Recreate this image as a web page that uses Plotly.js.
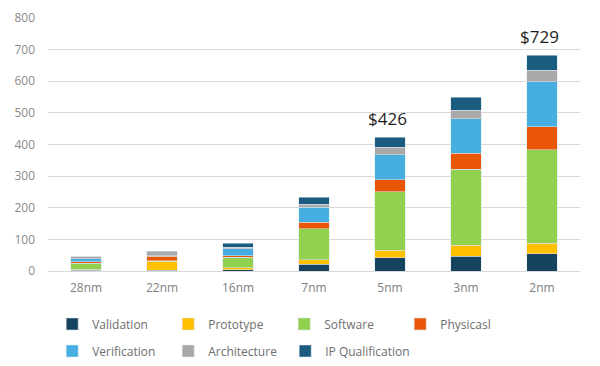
<!DOCTYPE html>
<html>
<head>
<meta charset="utf-8">
<script src="https://cdn.plot.ly/plotly-3.0.1.min.js"></script>
<style>html,body{margin:0;padding:0;background:#fff;}#chart{width:600px;height:366px;}</style>
</head>
<body>
<div id="chart"></div>
<script>
const categories = ['28nm','22nm','16nm','7nm','5nm','3nm','2nm'];
const validation   = [3, 3, 4, 21, 42, 47, 55];
const prototype    = [2, 28, 7, 14, 23, 34, 32];
const software     = [19, 2, 33, 98, 185, 240, 297];
const physical     = [5, 14, 5, 21, 38, 51, 72];
const verification = [10, 2, 21, 47, 79, 109, 142];
const architecture = [7, 12, 5, 10, 24, 28, 37];
const ipQual       = [1, 2, 13, 23, 32, 40, 47];
const totalLabels  = ['', '', '', '', '$426', '', '$729'];
const yTicks = [0,100,200,300,400,500,600,700,800];

const series = [
  {name:'Validation', y:validation, color:'#16435d', legend:'legend'},
  {name:'Prototype', y:prototype, color:'#ffc000', legend:'legend'},
  {name:'Software', y:software, color:'#92d050', legend:'legend'},
  {name:'Physicasl', y:physical, color:'#e85606', legend:'legend'},
  {name:'Verification', y:verification, color:'#47aee2', legend:'legend2'},
  {name:'Architecture', y:architecture, color:'#a9a9a9', legend:'legend2'},
  {name:'IP Qualification', y:ipQual, color:'#1a5c80', legend:'legend3'}
];

const traces = series.map(s => ({
  type:'bar', x:categories, y:s.y, name:s.name, legend:s.legend,
  marker:{color:s.color, line:{width:0.6, color:'rgba(220,228,235,0.9)'}},
  hoverinfo:'x+y+name'
}));

const totals = categories.map((c,i) => series.reduce((a,s)=>a+s.y[i],0));
const annotations = categories.map((c,i) => totalLabels[i] ? ({
  x:c, y:totals[i], xref:'x', yref:'y', text:totalLabels[i], showarrow:false,
  yanchor:'bottom', yshift:5, xshift:-3,
  font:{family:'Open Sans, sans-serif', size:17, color:'#1e1e1e'}
}) : null).filter(a=>a);

const legendFont = {family:'Open Sans, sans-serif', size:12, color:'#6e6e6e'};
const legendBase = {orientation:'h', xref:'container', yref:'container',
  xanchor:'left', yanchor:'middle', traceorder:'normal', font:legendFont,
  bgcolor:'rgba(0,0,0,0)'};
const layout = {
  width:600, height:366,
  margin:{l:48, r:20, t:18, b:95},
  paper_bgcolor:'#fff', plot_bgcolor:'#fff',
  barmode:'stack', bargap:0.6,
  font:{family:'Open Sans, sans-serif'},
  xaxis:{type:'category', showgrid:false, zeroline:false, showline:false,
    tickfont:{size:12, color:'#7f7f7f'}, ticklabelstandoff:8},
  yaxis:{range:[0,800], tickvals:yTicks, showgrid:true, gridcolor:'#d9d9d9', gridwidth:1,
    zeroline:true, zerolinecolor:'#d9d9d9', zerolinewidth:1,
    tickfont:{size:12, color:'#8a8a8a'}, ticklabelstandoff:12},
  showlegend:true,
  legend:Object.assign({}, legendBase, {x:0.087, y:1-324/366, entrywidth:71}),
  legend2:Object.assign({}, legendBase, {x:0.087, y:1-351/366, entrywidth:71}),
  legend3:Object.assign({}, legendBase, {x:0.087+233/600, y:1-351/366, entrywidth:0}),
  annotations:annotations
};

Plotly.newPlot('chart', traces, layout, {displayModeBar:false, staticPlot:true});
</script>
</body>
</html>
